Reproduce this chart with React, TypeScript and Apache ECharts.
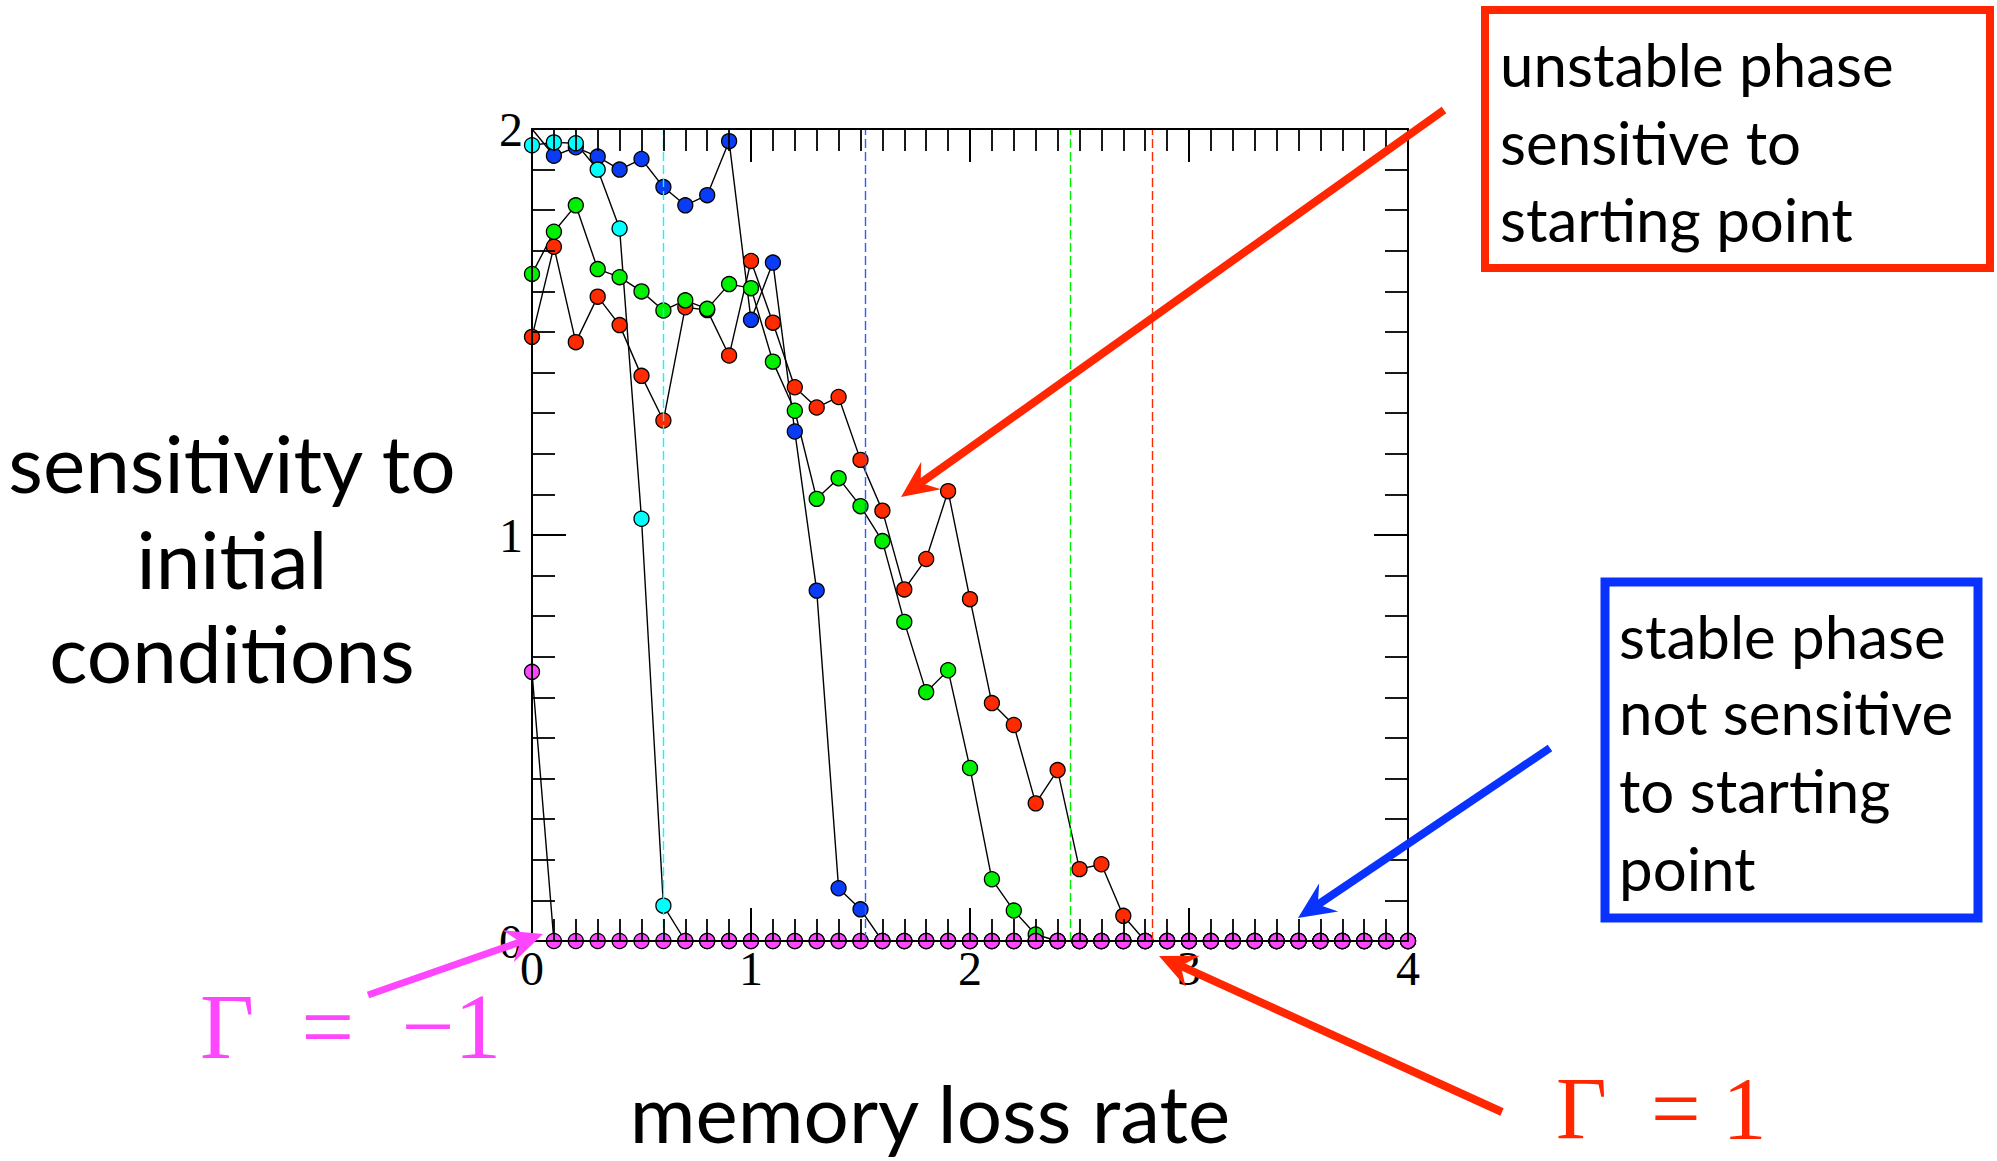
import React, { useEffect, useRef } from "react";
import * as echarts from "echarts";

// memory loss rate sampled every 0.1
const X_VALUES = [
  0, 0.1, 0.2, 0.3, 0.4, 0.5, 0.6, 0.7, 0.8, 0.9,
  1, 1.1, 1.2, 1.3, 1.4, 1.5, 1.6, 1.7, 1.8, 1.9,
  2, 2.1, 2.2, 2.3, 2.4, 2.5, 2.6, 2.7, 2.8, 2.9,
  3, 3.1, 3.2, 3.3, 3.4, 3.5, 3.6, 3.7, 3.8, 3.9,
  4,
];

const CYAN_VALUES = [
  1.96, 1.967, 1.965, 1.9, 1.755, 1.04, 0.087, 0, 0, 0,
  0, 0, 0, 0, 0, 0, 0, 0, 0, 0,
  0, 0, 0, 0, 0, 0, 0, 0, 0, 0,
  0, 0, 0, 0, 0, 0, 0, 0, 0, 0,
  0,
];

const BLUE_VALUES = [
  2.0, 1.934, 1.955, 1.932, 1.9, 1.926, 1.857, 1.812, 1.837, 1.97,
  1.53, 1.671, 1.255, 0.863, 0.13, 0.078, 0, 0, 0, 0,
  0, 0, 0, 0, 0, 0, 0, 0, 0, 0,
  0, 0, 0, 0, 0, 0, 0, 0, 0, 0,
  0,
];

const GREEN_VALUES = [
  1.643, 1.747, 1.812, 1.655, 1.635, 1.6, 1.553, 1.578, 1.557, 1.618,
  1.608, 1.427, 1.306, 1.089, 1.14, 1.071, 0.985, 0.786, 0.613, 0.667,
  0.426, 0.152, 0.075, 0.016, 0, 0, 0, 0, 0, 0,
  0, 0, 0, 0, 0, 0, 0, 0, 0, 0,
  0,
];

const RED_VALUES = [
  1.488, 1.71, 1.475, 1.587, 1.517, 1.392, 1.282, 1.561, 1.554, 1.442,
  1.675, 1.523, 1.364, 1.314, 1.34, 1.185, 1.06, 0.866, 0.941, 1.108,
  0.842, 0.586, 0.532, 0.339, 0.421, 0.177, 0.189, 0.062, 0, 0,
  0, 0, 0, 0, 0, 0, 0, 0, 0, 0,
  0,
];

const MAGENTA_VALUES = [
  0.663, 0, 0, 0, 0, 0, 0, 0, 0, 0,
  0, 0, 0, 0, 0, 0, 0, 0, 0, 0,
  0, 0, 0, 0, 0, 0, 0, 0, 0, 0,
  0, 0, 0, 0, 0, 0, 0, 0, 0, 0,
  0,
];

// transition points (dashed vertical lines)
const THRESHOLD_CYAN = 0.605;
const THRESHOLD_BLUE = 1.522;
const THRESHOLD_GREEN = 2.459;
const THRESHOLD_RED = 2.831;

const X_TICKS = [0, 1, 2, 3, 4];
const Y_TICKS = [0, 1, 2];

const C_CYAN = "#00ffff";
const C_BLUE = "#0a3cf5";
const C_BLUE_DASH = "#2d5cff";
const C_GREEN = "#00f000";
const C_RED = "#ff2a00";
const C_MAGENTA = "#ff46ff";
const C_RED_ANN = "#ff2600";
const C_BLUE_ANN = "#0a32ff";

function arrow(x1: number, y1: number, x2: number, y2: number, color: string, w = 8) {
  const hl = 37, hw = 17, notch = 24;
  const dx = x2 - x1, dy = y2 - y1;
  const L = Math.hypot(dx, dy);
  const ux = dx / L, uy = dy / L;
  const nx = -uy, ny = ux;
  const bx = x2 - ux * hl, by = y2 - uy * hl;
  const p1 = [bx + nx * hw, by + ny * hw];
  const p2 = [bx - nx * hw, by - ny * hw];
  const nt = [x2 - ux * notch, y2 - uy * notch];
  return [
    { type: "line", z: 100, shape: { x1, y1, x2: nt[0], y2: nt[1] }, style: { stroke: color, lineWidth: w } },
    { type: "polygon", z: 100, shape: { points: [[x2, y2], p1, nt, p2] }, style: { fill: color } },
  ];
}

function txt(
  text: string,
  x: number,
  y: number,
  size: number,
  color: string,
  align = "left",
  family = "Lato",
  lineHeight?: number
) {
  const style: any = {
    text,
    fontSize: size,
    fontFamily: family,
    fill: color,
    textAlign: align,
    textVerticalAlign: "middle",
  };
  if (lineHeight) style.lineHeight = lineHeight;
  return { type: "text", z: 100, x, y, style };
}

function makeSeries(name: string, values: number[], color: string, firstHidden = false) {
  return {
    name,
    type: "line",
    xAxisIndex: 0,
    yAxisIndex: 0,
    clip: false,
    symbol: "circle",
    symbolSize: 15,
    lineStyle: { color: "#000", width: 1.4 },
    itemStyle: { color, borderColor: "#000", borderWidth: 1.3 },
    emphasis: { disabled: true },
    data: X_VALUES.map((x, i) =>
      i === 0 && firstHidden ? { value: [x, values[i]], symbol: "none" } : [x, values[i]]
    ),
  };
}

function vline(value: number, color: string) {
  return {
    type: "line",
    xAxisIndex: 0,
    yAxisIndex: 0,
    data: [],
    silent: true,
    markLine: {
      silent: true,
      symbol: "none",
      label: { show: false },
      lineStyle: { color, width: 1.4, type: [9, 4] },
      data: [{ xAxis: value }],
    },
  };
}

const axisCommon = {
  type: "value",
  axisLine: { show: true, onZero: false, lineStyle: { color: "#000", width: 2 } },
  splitLine: { show: false },
  minorSplitLine: { show: false },
  z: 5,
};

export default function App() {
  const ref = useRef<HTMLDivElement>(null);
  useEffect(() => {
    const chart = echarts.init(ref.current!, null, { renderer: "svg" });
    const xAxisBase = {
      ...axisCommon,
      min: X_TICKS[0],
      max: X_TICKS[X_TICKS.length - 1],
      interval: 1,
      axisTick: { show: true, inside: true, length: 33, lineStyle: { color: "#000", width: 2 } },
      minorTick: { show: true, splitNumber: 10, length: 22, lineStyle: { color: "#000", width: 1.8 } },
    };
    const yAxisBase = {
      ...axisCommon,
      min: Y_TICKS[0],
      max: Y_TICKS[Y_TICKS.length - 1],
      interval: 1,
      axisTick: { show: true, inside: true, length: 34, lineStyle: { color: "#000", width: 2 } },
      minorTick: { show: true, splitNumber: 10, length: 23, lineStyle: { color: "#000", width: 1.8 } },
    };
    const option: any = {
      animation: false,
      backgroundColor: "#fff",
      grid: { left: 532, top: 129, width: 876, height: 812, show: false },
      xAxis: [
        {
          ...xAxisBase,
          position: "bottom",
          axisLabel: { color: "#000", fontFamily: "Liberation Serif", fontSize: 48, margin: 3 },
        },
        { ...xAxisBase, position: "top", axisLabel: { show: false } },
      ],
      yAxis: [
        {
          ...yAxisBase,
          position: "left",
          axisLabel: { color: "#000", fontFamily: "Liberation Serif", fontSize: 48, margin: 9 },
        },
        { ...yAxisBase, position: "right", axisLabel: { show: false } },
      ],
      series: [
        vline(THRESHOLD_CYAN, C_CYAN),
        vline(THRESHOLD_BLUE, C_BLUE_DASH),
        vline(THRESHOLD_GREEN, C_GREEN),
        vline(THRESHOLD_RED, C_RED),
        makeSeries("blue", BLUE_VALUES, C_BLUE, true),
        makeSeries("red", RED_VALUES, C_RED),
        makeSeries("green", GREEN_VALUES, C_GREEN),
        makeSeries("cyan", CYAN_VALUES, C_CYAN),
        makeSeries("magenta", MAGENTA_VALUES, C_MAGENTA),
      ],
      graphic: [
        txt("sensitivity to", 232, 462, 80, "#000", "center"),
        txt("initial", 232, 558, 80, "#000", "center"),
        txt("conditions", 232, 652, 80, "#000", "center"),
        txt("memory loss rate", 930, 1112, 80, "#000", "center"),
        {
          type: "rect",
          z: 100,
          shape: { x: 1485, y: 10, width: 505, height: 258 },
          style: { fill: "none", stroke: C_RED_ANN, lineWidth: 8 },
        },
        txt("unstable phase", 1500, 64, 60, "#000"),
        txt("sensitive to", 1500, 142, 60, "#000"),
        txt("starting point", 1500, 219, 60, "#000"),
        {
          type: "rect",
          z: 100,
          shape: { x: 1605, y: 582, width: 373, height: 336 },
          style: { fill: "none", stroke: C_BLUE_ANN, lineWidth: 9 },
        },
        txt("stable phase", 1619, 636, 60, "#000"),
        txt("not sensitive", 1619, 712, 60, "#000"),
        txt("to starting", 1619, 790, 60, "#000"),
        txt("point", 1619, 868, 60, "#000"),
        ...arrow(1444, 110, 901, 497, C_RED_ANN, 8),
        ...arrow(1550, 748, 1298, 918, C_BLUE_ANN, 8),
        ...arrow(368, 995, 543, 934, C_MAGENTA, 7),
        ...arrow(1502, 1112, 1159, 956, C_RED_ANN, 8),
        txt("Γ\u2002=\u2002−1", 200, 1026, 94, C_MAGENTA, "left", "Liberation Serif", 70),
        txt("Γ\u2002= 1", 1556, 1108, 88, C_RED_ANN, "left", "Liberation Serif", 66),
      ],
    };
    chart.setOption(option);
    return () => chart.dispose();
  }, []);
  return (
    <div
      ref={ref}
      style={{ position: "fixed", left: 0, top: 0, width: 1997, height: 1161, background: "#fff" }}
    />
  );
}
